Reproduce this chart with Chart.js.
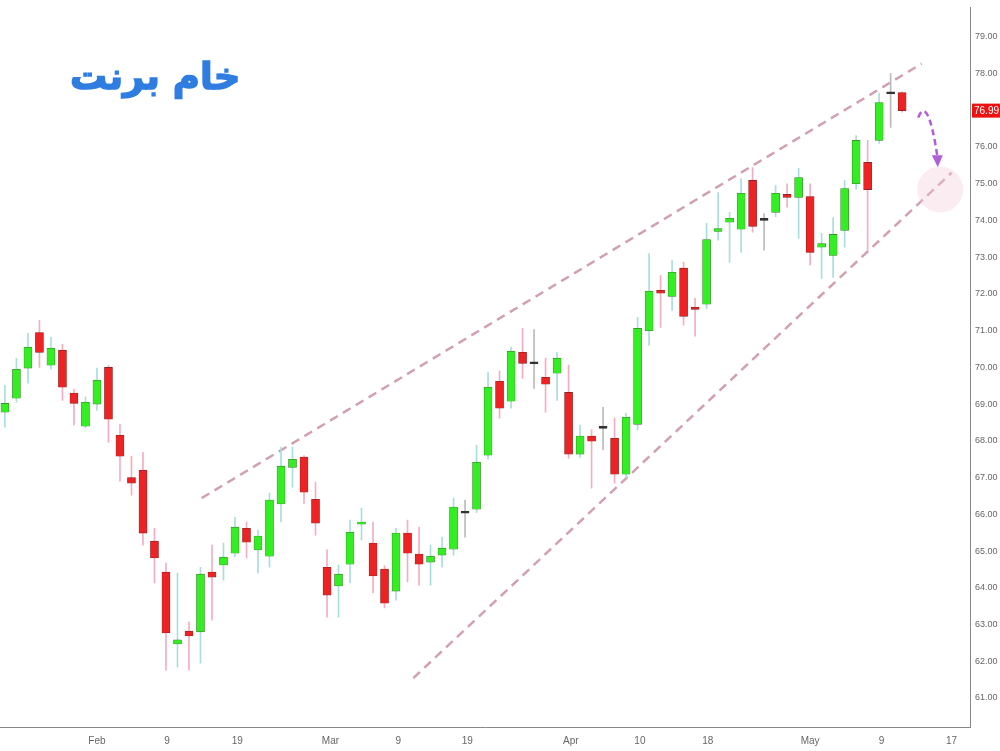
<!DOCTYPE html>
<html><head><meta charset="utf-8">
<script src="https://cdn.jsdelivr.net/npm/chart.js@4/dist/chart.umd.min.js"></script>
<style>body{margin:0;background:#fff}#w{position:relative;width:1000px;height:751px}
#t{position:absolute;left:70px;top:55px;font:bold 37px "DejaVu Sans",sans-serif;color:#2f7de1;direction:rtl;-webkit-text-stroke:1.5px #2f7de1}</style>
</head><body><div id="w"><canvas id="c" width="1000" height="751"></canvas><div id="t">خام برنت</div></div>
<script>
const opens=[68.78,69.16,69.98,70.95,70.06,70.47,69.3,68.4,69.0,70.0,68.15,67.0,67.2,65.27,64.43,62.47,62.82,62.8,64.43,64.62,64.94,65.62,65.03,64.86,66.28,67.28,67.56,66.41,64.56,64.05,64.64,65.73,65.22,64.51,63.91,65.49,64.92,64.70,64.89,65.05,66.03,66.14,67.61,69.62,69.08,70.41,70.12,69.73,69.84,69.32,67.64,68.13,68.34,68.07,67.09,68.45,71.0,72.1,71.93,72.7,71.63,71.72,73.7,73.95,73.76,75.09,74.01,74.22,74.71,74.63,74.65,73.27,73.05,73.73,75.0,75.58,76.18,77.45,77.48];
const highs=[69.51,70.25,70.93,71.28,70.82,70.63,69.4,69.2,69.98,70.05,68.45,67.58,67.69,65.62,64.67,64.4,63.07,64.56,65.16,65.22,65.92,65.79,65.57,66.58,67.83,67.83,67.6,66.88,65.03,64.62,65.84,66.17,65.79,64.6,65.62,65.84,65.65,65.16,65.38,66.44,66.39,67.88,69.87,69.9,70.55,71.06,71.03,70.25,70.41,70.06,68.43,68.3,68.91,68.62,68.75,71.36,73.1,72.5,72.91,72.86,71.88,73.92,74.76,74.22,75.14,75.44,74.19,74.95,75.0,75.42,75.0,73.65,74.08,75.09,76.31,76.18,77.46,78.0,77.5];
const lows=[68.37,69.05,69.57,70.0,69.95,69.1,68.43,68.35,68.83,67.96,66.9,66.52,65.16,64.13,61.76,61.84,61.76,61.95,63.12,64.21,64.85,64.81,64.4,64.56,65.79,66.74,66.3,65.43,63.2,63.2,64.13,65.3,63.86,63.45,63.66,64.16,64.07,64.07,64.56,64.89,65.38,66.05,67.5,68.62,68.89,69.7,69.43,68.78,69.1,67.53,67.55,66.71,67.75,66.85,67.0,68.3,70.6,71.09,71.55,71.15,70.85,71.6,73.46,72.86,73.13,73.68,73.19,74.1,74.36,73.51,72.78,72.42,72.45,73.27,74.85,73.19,76.1,76.53,76.95];
const closes=[69.02,69.95,70.55,70.41,70.52,69.46,69.02,69.05,69.65,68.59,67.58,66.85,65.49,64.81,62.77,62.58,62.69,64.37,64.29,64.83,65.65,65.24,65.41,66.39,67.31,67.5,66.6,65.76,63.8,64.37,65.51,65.79,64.32,63.58,65.49,64.94,64.64,64.86,65.08,66.2,66.05,67.42,69.46,68.89,70.44,70.11,70.10,69.54,70.25,67.64,68.13,67.99,68.36,67.09,68.64,71.06,72.07,72.02,72.59,71.39,71.58,73.48,73.78,74.06,74.74,73.84,74.0,74.74,74.63,75.17,73.13,73.37,73.62,74.87,76.18,74.84,77.21,77.46,76.99];
const tickPositions=[8.0,14.1,20.2,28.3,34.2,40.2,49.2,55.2,61.1,70.0,76.2,82.3];
const tickLabels=["Feb","9","19","Mar","9","19","Apr","10","18","May","9","17"];
const upperLine=[{x:17.1,y:66.44},{x:79.7,y:78.27}];
const lowerLine=[{x:35.5,y:61.54},{x:82.3,y:75.3}];
const arrowPts=[{x:79.4,y:76.8},{x:79.9,y:77.3},{x:81.1,y:75.45}];
const targetCircle={x:81.3,y:74.84};
const lastPrice=76.99;

const idx=opens.map((_,i)=>i);
const up=i=>closes[i]>opens[i]+0.03, dn=i=>closes[i]<opens[i]-0.03;
const bodyCol=idx.map(i=>up(i)?'#33ee22':dn(i)?'#ee2222':'#333');
const wickCol=idx.map(i=>up(i)?'#a9dede':dn(i)?'#f4aec0':'#bbb');

const overlay={id:'ov',afterDatasetsDraw(ch){
  const {ctx,scales:{x,y}}=ch;ctx.save();
  ctx.fillStyle='rgba(240,200,215,0.35)';ctx.beginPath();
  ctx.arc(x.getPixelForValue(targetCircle.x),y.getPixelForValue(targetCircle.y),23,0,Math.PI*2);ctx.fill();
  const p=arrowPts.map(q=>[x.getPixelForValue(q.x),y.getPixelForValue(q.y)]);
  ctx.strokeStyle='#b15ed8';ctx.lineWidth=2.5;ctx.setLineDash([6,4]);ctx.beginPath();
  ctx.moveTo(p[0][0],p[0][1]);ctx.quadraticCurveTo(p[1][0]+4,p[1][1]-6,p[2][0],p[2][1]-8);ctx.stroke();
  ctx.setLineDash([]);ctx.fillStyle='#b15ed8';ctx.beginPath();
  ctx.moveTo(p[2][0]-6,p[2][1]-12);ctx.lineTo(p[2][0]+5,p[2][1]-12);ctx.lineTo(p[2][0],p[2][1]);ctx.fill();
  const yy=y.getPixelForValue(lastPrice);
  ctx.fillStyle='#ee1111';ctx.fillRect(x.right+2,yy-7,30,14);
  ctx.fillStyle='#fff';ctx.font='10px "Liberation Sans",Arial';ctx.textBaseline='middle';ctx.fillText(lastPrice.toFixed(2),x.right+4,yy+0.5);
  ctx.restore();}};

new Chart(document.getElementById('c'),{
 type:'bar',
 data:{datasets:[
  {type:'line',data:upperLine,borderColor:'#d1a2ae',borderWidth:2.5,borderDash:[9,6],pointRadius:0,order:3},
  {type:'line',data:lowerLine,borderColor:'#d1a2ae',borderWidth:2.5,borderDash:[9,6],pointRadius:0,order:3},
  {data:idx.map(i=>({x:i,y:[lows[i],highs[i]]})),backgroundColor:wickCol,barThickness:1,grouped:false,order:2},
  {data:idx.map(i=>({x:i,y:[Math.min(opens[i],closes[i]),Math.max(opens[i],closes[i])]})),backgroundColor:bodyCol,borderColor:idx.map(i=>up(i)?'#3a7a2a':dn(i)?'#7a2020':'#333'),borderWidth:0.6,borderSkipped:false,barThickness:8,minBarLength:2,grouped:false,order:1}
 ]},
 options:{responsive:false,animation:false,layout:{padding:0},
  plugins:{legend:{display:false},tooltip:{enabled:false}},
  scales:{
   x:{type:'linear',offset:false,min:-0.43,max:83.9,grid:{display:false,drawTicks:true,tickLength:4},border:{color:'#888'},
      afterBuildTicks:a=>{a.ticks=tickPositions.map(v=>({value:v}))},
      ticks:{autoSkip:false,maxRotation:0,color:'#666',font:{size:10,family:'"Liberation Sans",Arial'},padding:4,
        callback:(v,i)=>tickLabels[i]}},
   y:{position:'right',min:60.21,max:79.8,grid:{display:false,tickLength:3},border:{color:'#888'},
      afterFit:a=>{a.width=30},
      afterBuildTicks:a=>{a.ticks=[];for(let v=61;v<=79;v++)a.ticks.push({value:v})},
      ticks:{color:'#666',font:{size:9,family:'"Liberation Sans",Arial'},padding:2,callback:v=>v.toFixed(2)}}
  }},
 plugins:[overlay]});
</script></body></html>
